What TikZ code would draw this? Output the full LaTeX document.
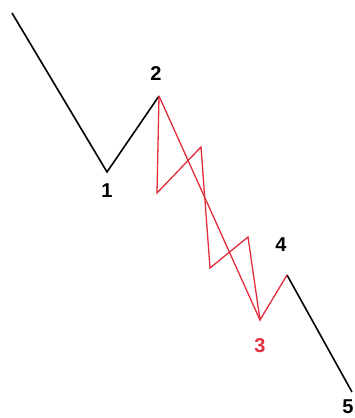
\documentclass[tikz,border=0pt]{standalone}
\usepackage{fontspec}
\setmainfont{Liberation Sans}
\usepackage{xcolor}
\usetikzlibrary{positioning}
\definecolor{wavered}{RGB}{225,45,60}

\begin{document}
\begin{tikzpicture}[
    x=1pt, y=-1pt,
    wave/.style={line width=1.6pt, black, line join=miter},
    sub/.style={line width=1.3pt, wavered, line join=miter},
    lbl/.style={font=\bfseries\fontsize{20}{20}\selectfont, inner sep=0pt},
]
    \useasboundingbox (0,0) rectangle (355,418);

    % wave points
    \coordinate (p0) at (12,13);
    \coordinate (p1) at (107,172);
    \coordinate (p2) at (159,96);
    \coordinate (a) at (157,193);
    \coordinate (b) at (201,147);
    \coordinate (c) at (210,268);
    \coordinate (d) at (248,237);
    \coordinate (p3) at (260,320);
    \coordinate (p4) at (287,275);
    \coordinate (p5) at (352,392);

    % main waves
    \draw[wave] (p0) -- (p1) -- (p2);
    \draw[wave] (p4) -- (p5);

    % corrective wave
    \draw[sub] (p2) -- (p3);
    \draw[sub] (p2) -- (a) -- (b) -- (c) -- (d) -- (p3) -- (p4);

    % labels
    \node[lbl] (n1) at (107,191) {1};
    \node[lbl] (n2) at (156,74) {2};
    \node[lbl, text=wavered] (n3) at (260,346) {3};
    \node[lbl] (n4) at (281,245) {4};
    \node[lbl] (n5) at (348,407) {5};
\end{tikzpicture}
\end{document}
